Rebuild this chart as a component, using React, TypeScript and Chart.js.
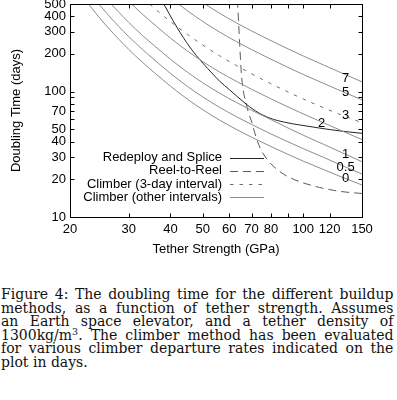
import React, { useEffect, useRef } from 'react';
import { Chart, registerables } from 'chart.js';
Chart.register(...registerables);

// ---- data ----
const strengthGPa = [22, 24, 26, 28, 30, 33, 36, 40, 45, 50, 56, 63, 70, 80, 90, 100, 115, 130, 150];
const climber0 = [559, 416, 324, 262, 217, 171, 140, 110.5, 87, 71.7, 59.5, 50, 43.3, 36.5, 31.6, 27.9, 23.9, 20.9, 18.0];
const climber05 = [null, 526, 410, 331, 274.5, 216.6, 177, 139.8, 110, 90.7, 75.2, 63.2, 54.7, 46, 39.8, 35.1, 29.9, 25.9, 22.0];
const climber1 = [null, null, 531, 430, 356, 280, 229.6, 181.2, 142.7, 117.6, 97.6, 82, 71, 59.9, 51.3, 44.9, 38, 32.8, 27.6];
const climber2 = [null, null, null, null, 525, 414, 338.8, 267.4, 210.5, 173.5, 144, 121, 104.4, 87.6, 75.5, 66.4, 56.4, 48.9, 41.4];
const climber3 = [null, null, null, null, null, 560, 456.5, 362, 286, 235.4, 194.2, 161.8, 138.9, 115.8, 99.4, 87.4, 74.4, 65.2, 56.5];
const climber5 = [null, null, null, null, null, null, null, 561, 441, 362.8, 299.9, 251, 216.5, 181.4, 156.1, 137, 116.4, 101, 86];
const climber7 = [null, null, null, null, null, null, null, null, null, 512.7, 423.6, 354, 304.8, 255.1, 219.3, 192.5, 163.2, 141.3, 119.7];

const redeployX = [37.6, 41.8, 45.7, 50, 53.6, 56.2, 60, 66.5, 72, 79.4, 88, 97.7, 112, 132, 150];
const redeployY = [539, 327, 227, 169, 138, 121, 104, 82, 70, 61.5, 57, 54.2, 51.2, 48.2, 46.5];

const reelX = [63.5, 63.6, 64.4, 65.3, 67.8, 70.1, 72.6, 74.5, 77.8, 85.1, 92, 100, 112, 129, 150];
const reelY = [540, 500, 260, 136, 76, 57, 41.5, 35, 29, 23, 20.4, 18.7, 17.2, 16, 15.4];

const xTickValues = [20, 30, 40, 50, 60, 70, 80, 90, 100, 120, 150];
const xTickLabels = [20, 30, 40, 50, 60, 70, 80, 100, 120, 150];
const yTickValues = [10, 20, 30, 40, 50, 60, 70, 80, 90, 100, 200, 300, 400, 500];
const yTickLabels = [10, 20, 30, 40, 50, 70, 100, 200, 300, 400, 500];

const curveLabelText = ['7', '5', '3', '2', '1', '0.5', '0'];
const curveLabelX = [134, 134, 134, 113.5, 134, 134, 134];
const curveLabelY = [128, 98, 65, 56, 31.6, 24.7, 20.2];

const legendLabels = ['Redeploy and Splice', 'Reel-to-Reel', 'Climber (3-day interval)', 'Climber (other intervals)'];

const captionLines = [
  'Figure 4: The doubling time for the different buildup',
  'methods, as a function of tether strength.  Assumes',
  'an Earth space elevator, and a tether density of',
  '1300kg/m³. The climber method has been evaluated',
  'for various climber departure rates indicated on the',
  'plot in days.',
];

const FONT = '"Liberation Sans", Arial, Helvetica, sans-serif';
const GRAY = '#8c8c8c';
const DASH3 = '#6e6e6e';
const REEL = '#5a5a5a';
const BLACK = '#262626';

function pts(xs: number[], ys: (number | null)[]) {
  const out: { x: number; y: number }[] = [];
  xs.forEach((x, i) => {
    const y = ys[i];
    if (y !== null && y !== undefined) out.push({ x, y });
  });
  return out;
}

const decorPlugin = {
  id: 'gnuplotDecor',
  afterDatasetsDraw(chart: any) {
    const { ctx, chartArea, scales } = chart;
    const { left, right, top, bottom } = chartArea;
    const xs = scales.x;
    const ys = scales.y;
    ctx.save();
    // frame
    ctx.strokeStyle = '#000';
    ctx.lineWidth = 1;
    ctx.setLineDash([]);
    ctx.strokeRect(left + 0.5, top + 0.5, right - left, bottom - top);
    // ticks (inside, mirrored)
    ctx.beginPath();
    xTickValues.forEach((v) => {
      const px = Math.round(xs.getPixelForValue(v)) + 0.5;
      ctx.moveTo(px, bottom + 0.5);
      ctx.lineTo(px, bottom + 0.5 - 4);
      ctx.moveTo(px, top + 0.5);
      ctx.lineTo(px, top + 0.5 + 4);
    });
    yTickValues.forEach((v) => {
      const py = Math.round(ys.getPixelForValue(v)) + 0.5;
      ctx.moveTo(left + 0.5, py);
      ctx.lineTo(left + 0.5 + 4, py);
      ctx.moveTo(right + 0.5, py);
      ctx.lineTo(right + 0.5 - 4, py);
    });
    ctx.stroke();

    // curve labels
    ctx.fillStyle = '#000';
    ctx.font = '13px ' + FONT;
    ctx.textAlign = 'center';
    ctx.textBaseline = 'middle';
    curveLabelText.forEach((t, i) => {
      ctx.fillText(t, xs.getPixelForValue(curveLabelX[i]), ys.getPixelForValue(curveLabelY[i]));
    });

    // legend (gnuplot style: right-aligned text, sample to the right)
    const styles = [
      { color: BLACK, dash: [] as number[] },
      { color: REEL, dash: [8, 5] },
      { color: DASH3, dash: [3.5, 6] },
      { color: GRAY, dash: [] as number[] },
    ];
    const textRight = left + 152;
    const sampleL = left + 160;
    const sampleR = left + 194;
    legendLabels.forEach((t, i) => {
      const y = top + 153.5 + i * 13.27;
      ctx.textAlign = 'right';
      ctx.fillStyle = '#000';
      ctx.fillText(t, textRight, y);
      ctx.strokeStyle = styles[i].color;
      ctx.setLineDash(styles[i].dash);
      ctx.beginPath();
      ctx.moveTo(sampleL, Math.round(y) + 0.5);
      ctx.lineTo(sampleR, Math.round(y) + 0.5);
      ctx.stroke();
    });
    ctx.restore();
  },
};

function ChartView() {
  const ref = useRef<HTMLCanvasElement | null>(null);
  useEffect(() => {
    if (!ref.current) return;
    const line = (label: string, data: any[], color: string, dash: number[] = []) => ({
      label,
      data,
      borderColor: color,
      borderWidth: 1,
      borderDash: dash,
      pointRadius: 0,
      fill: false,
      cubicInterpolationMode: 'monotone',
    });
    const datasets = [
      line('0', pts(strengthGPa, climber0), GRAY),
      line('0.5', pts(strengthGPa, climber05), GRAY),
      line('1', pts(strengthGPa, climber1), GRAY),
      line('2', pts(strengthGPa, climber2), GRAY),
      line('5', pts(strengthGPa, climber5), GRAY),
      line('7', pts(strengthGPa, climber7), GRAY),
      line('3', pts(strengthGPa, climber3), DASH3, [3.5, 6]),
      line('Redeploy and Splice', pts(redeployX, redeployY), BLACK),
      line('Reel-to-Reel', pts(reelX, reelY), REEL, [8, 5]),
    ];
    const font = { family: FONT, size: 13 };
    const chart = new Chart(ref.current, {
      type: 'line',
      data: { datasets } as any,
      options: {
        animation: false,
        responsive: false,
        layout: { padding: { left: 0, right: 35, top: 4, bottom: 0 } },
        plugins: { legend: { display: false }, tooltip: { enabled: false } },
        scales: {
          x: {
            type: 'logarithmic',
            position: 'bottom',
            min: 20,
            max: 150,
            grid: { display: false, drawTicks: false },
            border: { display: false },
            afterBuildTicks: (s: any) => {
              s.ticks = xTickValues.map((v) => ({ value: v }));
            },
            afterFit: (s: any) => {
              s.height = 43;
              s.paddingLeft = 0;
              s.paddingRight = 0;
            },
            ticks: {
              autoSkip: false,
              maxRotation: 0,
              minRotation: 0,
              padding: 5,
              color: '#000',
              font,
              callback: (v: any) => (xTickLabels.includes(Number(v)) ? String(v) : ''),
            },
            title: { display: true, text: 'Tether Strength (GPa)', color: '#000', font, padding: { top: 0, bottom: 3 } },
          },
          y: {
            type: 'logarithmic',
            position: 'left',
            min: 10,
            max: 500,
            grid: { display: false, drawTicks: false },
            border: { display: false },
            afterBuildTicks: (s: any) => {
              s.ticks = yTickValues.map((v) => ({ value: v }));
            },
            afterFit: (s: any) => {
              s.width = 70;
              s.paddingTop = 0;
              s.paddingBottom = 0;
            },
            ticks: {
              autoSkip: false,
              padding: 4,
              color: '#000',
              font,
              callback: (v: any) => (yTickLabels.includes(Number(v)) ? String(v) : ''),
            },
            title: { display: true, text: 'Doubling Time (days)', color: '#000', font, padding: { top: 8.5, bottom: 0 } },
          },
        },
      } as any,
      plugins: [decorPlugin],
    });
    return () => chart.destroy();
  }, []);
  return <canvas ref={ref} width={397} height={260} style={{ position: 'absolute', left: 0, top: 0, width: 397, height: 260 }} />;
}

function Word({ w }: { w: string }) {
  if (w.includes('³')) {
    const [a, b] = w.split('³');
    return (
      <span>
        {a}
        <span style={{ fontSize: '9.5px', verticalAlign: '5px', lineHeight: 0 }}>3</span>
        {b}
      </span>
    );
  }
  return <span>{w}</span>;
}

function Caption() {
  return (
    <div
      style={{
        position: 'absolute',
        left: 1,
        top: 288,
        width: 392.5,
        fontFamily: '"DejaVu Serif", serif',
        fontSize: '14px',
        lineHeight: '13.5px',
        color: '#111',
      }}
    >
      {captionLines.map((ln, i) => {
        const last = i === captionLines.length - 1;
        if (last) return <div key={i} style={{ height: 13.5, whiteSpace: 'nowrap' }}>{ln}</div>;
        return (
          <div key={i} style={{ display: 'flex', justifyContent: 'space-between', height: 13.5, whiteSpace: 'nowrap' }}>
            {ln.split(/\s+/).map((w, j) => (
              <Word key={j} w={w} />
            ))}
          </div>
        );
      })}
    </div>
  );
}

export default function App() {
  return (
    <div style={{ position: 'absolute', left: 0, top: 0, width: 397, height: 400, background: '#fff', overflow: 'hidden' }}>
      <ChartView />
      <Caption />
    </div>
  );
}
